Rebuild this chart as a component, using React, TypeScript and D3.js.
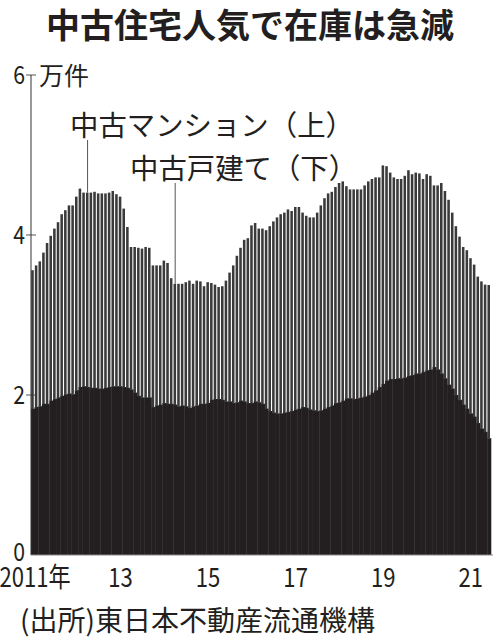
import React from "react";
import * as d3 from "d3";

// 中古戸建て (lower series), 万件, monthly 2011/1 – 2021/6
const houseValues = [
  1.83, 1.85, 1.86, 1.89, 1.89, 1.93, 1.95, 1.97, 1.99, 2.01, 2.02, 2.01,
  2.06, 2.10, 2.11, 2.10, 2.09, 2.09, 2.08, 2.08, 2.09, 2.10, 2.11, 2.11,
  2.11, 2.10, 2.09, 2.07, 2.03, 1.99, 1.97, 1.97, 1.97, 1.85, 1.87, 1.88,
  1.90, 1.89, 1.89, 1.88, 1.86, 1.87, 1.86, 1.84, 1.86, 1.87, 1.89, 1.89,
  1.90, 1.94, 1.95, 1.95, 1.94, 1.92, 1.92, 1.90, 1.91, 1.93, 1.92, 1.90,
  1.90, 1.92, 1.91, 1.89, 1.83, 1.80, 1.78, 1.77, 1.77, 1.78, 1.79, 1.80,
  1.82, 1.83, 1.85, 1.84, 1.82, 1.81, 1.80, 1.81, 1.83, 1.85, 1.87, 1.90,
  1.91, 1.93, 1.96, 1.96, 1.95, 1.96, 1.97, 1.98, 2.00, 2.03, 2.06, 2.10,
  2.14, 2.18, 2.20, 2.20, 2.21, 2.21, 2.22, 2.24, 2.25, 2.27, 2.27, 2.29,
  2.31, 2.32, 2.35, 2.32, 2.27, 2.21, 2.13, 2.08, 2.00, 1.94, 1.88, 1.83,
  1.77, 1.73, 1.65, 1.58, 1.54, 1.46,
];

// 中古マンション + 中古戸建て (stack top), 万件
const totalValues = [
  3.56, 3.62, 3.67, 3.78, 3.90, 3.99, 4.08, 4.16, 4.26, 4.31, 4.37, 4.37,
  4.48, 4.58, 4.53, 4.53, 4.53, 4.54, 4.52, 4.52, 4.52, 4.53, 4.55, 4.51,
  4.48, 4.33, 4.10, 3.85, 3.85, 3.84, 3.83, 3.85, 3.84, 3.62, 3.62, 3.62,
  3.68, 3.65, 3.46, 3.39, 3.39, 3.39, 3.41, 3.43, 3.39, 3.43, 3.42, 3.36,
  3.41, 3.40, 3.38, 3.35, 3.36, 3.43, 3.53, 3.62, 3.74, 3.84, 3.94, 3.96,
  4.12, 4.15, 4.08, 4.08, 4.06, 4.11, 4.17, 4.22, 4.26, 4.28, 4.32, 4.30,
  4.35, 4.35, 4.28, 4.24, 4.22, 4.22, 4.28, 4.37, 4.46, 4.52, 4.54, 4.60,
  4.65, 4.67, 4.61, 4.57, 4.57, 4.57, 4.57, 4.62, 4.67, 4.70, 4.72, 4.72,
  4.87, 4.86, 4.78, 4.72, 4.70, 4.70, 4.74, 4.81, 4.76, 4.78, 4.77, 4.70,
  4.76, 4.74, 4.62, 4.62, 4.65, 4.55, 4.44, 4.28, 4.11, 3.98, 3.85, 3.81,
  3.71, 3.63, 3.48, 3.42, 3.38, 3.375,
];

const xTickLabels = ["2011年", "13", "15", "17", "19", "21"];
const xTickMonthIndex = [0, 24, 48, 72, 96, 120];
const yTickValues = [0, 2, 4, 6];

const TITLE = "中古住宅人気で在庫は急減";
const UNIT = "万件";
const LABEL_UPPER = "中古マンション（上）";
const LABEL_LOWER = "中古戸建て（下）";
const SOURCE = "(出所)東日本不動産流通機構";

const FONT = "'Noto Sans CJK JP', 'Noto Sans', sans-serif";
const INK = "#231f20";

export default function App() {
  const W = 500;
  const H = 643;
  const n = totalValues.length;
  const months = d3.range(n);
  const left = 31;
  const step = 3.65;
  const x = d3
    .scaleBand<number>()
    .domain(months)
    .range([left, left + n * step])
    .padding(0);
  const bw = x.bandwidth();
  const y = d3.scaleLinear().domain([0, 6]).range([555, 75]);
  const cx = (i: number) => (x(i) as number) + bw / 2;

  const upperIdx = 15;
  const lowerIdx = 39;

  return (
    <svg
      width={W}
      height={H}
      viewBox={`0 0 ${W} ${H}`}
      style={{ position: "absolute", left: 0, top: 0, background: "#fff" }}
    >
      <rect x={0} y={0} width={W} height={H} fill="#fff" />
      {/* title */}
      <text
        x={W / 2}
        y={38}
        textAnchor="middle"
        fontFamily={FONT}
        fontWeight={700}
        fontSize={34}
        fill={INK}
      >
        {TITLE}
      </text>

      {/* y ticks */}
      {yTickValues.map((v) => (
        <g key={v}>
          {v > 0 && (
            <line x1={26} x2={36} y1={y(v)} y2={y(v)} stroke="#555" strokeWidth={1} />
          )}
          <text
            transform={`translate(25,${y(v) + (v === 0 ? 6 : 9)}) scale(0.85,1)`}
            textAnchor="end"
            fontFamily={FONT}
            fontSize={25}
            fill={INK}
          >
            {v}
          </text>
        </g>
      ))}
      <text x={39} y={85} fontFamily={FONT} fontSize={25} fill={INK}>
        {UNIT}
      </text>

      {/* lower series bars */}
      {months.map((i) => (
        <rect
          key={"h" + i}
          x={x(i) as number}
          y={y(houseValues[i])}
          width={bw + 0.4}
          height={y(0) - y(houseValues[i])}
          fill={INK}
        />
      ))}
      {/* upper series bars */}
      {months.map((i) => (
        <rect
          key={"m" + i}
          x={(x(i) as number) + 0.2}
          y={y(totalValues[i])}
          width={bw - 1.1}
          height={y(houseValues[i]) - y(totalValues[i]) + 0.5}
          fill="#3a3a3a"
        />
      ))}

      {/* axes */}
      <line x1={left} x2={left} y1={y(6)} y2={y(0)} stroke="#333" strokeWidth={1} />
      <line x1={left} x2={493} y1={y(0)} y2={y(0)} stroke="#888" strokeWidth={1} />

      {/* x labels */}
      {xTickLabels.map((t, k) => (
        <text
          key={t}
          transform={`translate(${k === 0 ? 35 : cx(xTickMonthIndex[k])},587) scale(0.82,1)`}
          textAnchor="middle"
          fontFamily={FONT}
          fontSize={27}
          fill={INK}
        >
          {t}
        </text>
      ))}

      {/* annotations */}
      <line
        x1={cx(upperIdx)}
        x2={cx(upperIdx)}
        y1={140}
        y2={y(totalValues[upperIdx])}
        stroke="#555"
        strokeWidth={1}
      />
      <text x={70} y={136} fontFamily={FONT} fontSize={28.4} fill={INK}>
        {LABEL_UPPER}
      </text>
      <line
        x1={cx(lowerIdx)}
        x2={cx(lowerIdx)}
        y1={183}
        y2={y(totalValues[lowerIdx])}
        stroke="#555"
        strokeWidth={1}
      />
      <text x={130} y={179} fontFamily={FONT} fontSize={28.4} fill={INK}>
        {LABEL_LOWER}
      </text>

      {/* source */}
      <text x={20} y={631} fontFamily={FONT} fontSize={28} fill={INK}>
        {SOURCE}
      </text>
    </svg>
  );
}
